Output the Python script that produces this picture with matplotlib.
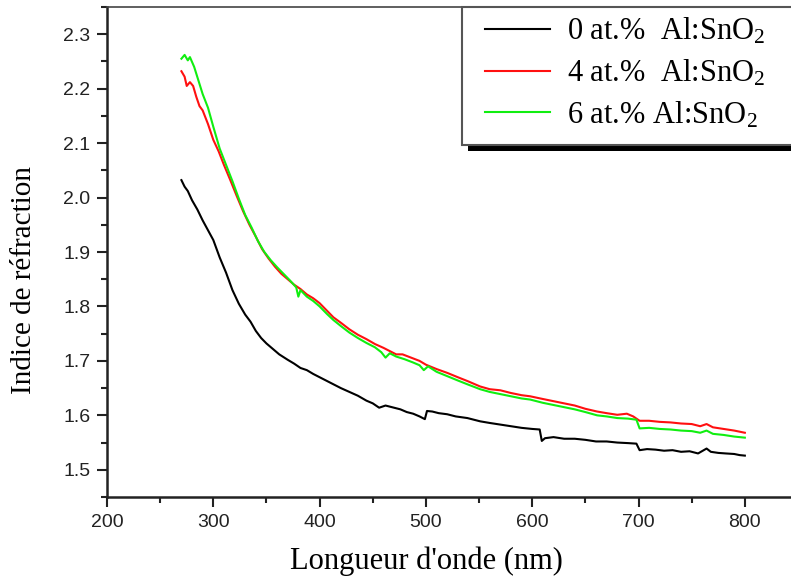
import matplotlib.pyplot as plt
from matplotlib.patches import Rectangle
from matplotlib.ticker import MultipleLocator

# 0 at.% Al:SnO2
lam0 = [270, 273, 276, 280, 285, 290, 295, 300, 306, 312, 318, 324, 330, 335, 340,
        345, 350, 356, 362, 370, 376, 382, 388, 394, 400, 406, 413, 420, 428, 436,
        444, 450, 456, 462, 466, 470, 476, 482, 488, 494, 499, 501, 506, 512, 520,
        528, 539, 551, 560, 570, 580, 590, 600, 607, 609, 612, 620, 630, 640, 650,
        660, 670, 680, 690, 698, 701, 708, 716, 724, 732, 740, 748, 756, 764, 768,
        775, 782, 790, 795, 800]
n0 = [2.032, 2.020, 2.012, 1.995, 1.978, 1.958, 1.940, 1.922, 1.890, 1.862, 1.830,
      1.805, 1.785, 1.772, 1.755, 1.742, 1.732, 1.722, 1.712, 1.702, 1.695, 1.687,
      1.683, 1.676, 1.670, 1.664, 1.657, 1.650, 1.643, 1.636, 1.627, 1.622, 1.614,
      1.618, 1.616, 1.614, 1.611, 1.606, 1.603, 1.598, 1.593, 1.608, 1.607, 1.604,
      1.602, 1.598, 1.595, 1.589, 1.586, 1.583, 1.580, 1.577, 1.575, 1.574, 1.553,
      1.558, 1.560, 1.557, 1.557, 1.555, 1.552, 1.552, 1.550, 1.549, 1.548, 1.536,
      1.538, 1.537, 1.535, 1.536, 1.533, 1.534, 1.530, 1.539, 1.533, 1.531, 1.530,
      1.529, 1.527, 1.526]

# 4 at.% Al:SnO2
lam4 = [270, 273, 275, 278, 281, 284, 287, 290, 295, 300, 305, 310, 316, 322, 328,
        334, 340, 346, 352, 358, 364, 370, 376, 382, 388, 394, 400, 407, 413, 420,
        428, 436, 444, 452, 460, 466, 472, 478, 486, 494, 500, 510, 520, 530, 539,
        551, 560, 570, 580, 590, 598, 610, 620, 630, 640, 650, 661, 670, 680, 689,
        695, 701, 710, 720, 730, 740, 750, 758, 764, 770, 780, 790, 800]
n4 = [2.232, 2.222, 2.205, 2.212, 2.205, 2.185, 2.168, 2.160, 2.135, 2.106, 2.085,
      2.060, 2.032, 2.003, 1.975, 1.950, 1.928, 1.905, 1.888, 1.873, 1.860, 1.850,
      1.840, 1.832, 1.822, 1.815, 1.806, 1.792, 1.780, 1.770, 1.758, 1.748, 1.740,
      1.731, 1.724, 1.718, 1.712, 1.712, 1.706, 1.700, 1.693, 1.685, 1.678, 1.670,
      1.663, 1.653, 1.648, 1.646, 1.641, 1.637, 1.635, 1.630, 1.626, 1.622, 1.618,
      1.612, 1.607, 1.604, 1.601, 1.603, 1.598, 1.590, 1.590, 1.588, 1.587, 1.585,
      1.584, 1.580, 1.584, 1.578, 1.575, 1.572, 1.568]

# 6 at.% Al:SnO2
lam6 = [270, 273, 276, 278, 282, 286, 290, 295, 300, 306, 312, 318, 324, 330, 336,
        342, 348, 354, 360, 366, 372, 378, 380, 382, 388, 394, 400, 407, 413, 420,
        428, 436, 444, 452, 458, 462, 466, 472, 480, 488, 494, 498, 502, 510, 520,
        530, 539, 551, 560, 570, 580, 590, 598, 610, 620, 630, 640, 650, 661, 670,
        680, 690, 698, 701, 710, 720, 730, 740, 750, 758, 764, 770, 780, 790, 800]
n6 = [2.255, 2.262, 2.252, 2.258, 2.240, 2.215, 2.190, 2.165, 2.130, 2.090, 2.060,
      2.030, 1.998, 1.968, 1.945, 1.920, 1.900, 1.885, 1.872, 1.860, 1.848, 1.835,
      1.818, 1.830, 1.818, 1.810, 1.800, 1.786, 1.775, 1.764, 1.752, 1.742, 1.733,
      1.725, 1.716, 1.706, 1.714, 1.708, 1.703, 1.697, 1.692, 1.683, 1.690, 1.680,
      1.672, 1.664, 1.657, 1.648, 1.643, 1.639, 1.635, 1.631, 1.629, 1.623, 1.619,
      1.615, 1.611, 1.606, 1.600, 1.598, 1.595, 1.594, 1.592, 1.576, 1.577, 1.575,
      1.574, 1.572, 1.571, 1.568, 1.572, 1.566, 1.564, 1.561, 1.559]

labels = [r'0 at.%  Al:SnO$_2$', r'4 at.%  Al:SnO$_2$', r'6 at.% Al:SnO$_2$']

plt.rcParams['mathtext.fontset'] = 'custom'
plt.rcParams['mathtext.rm'] = 'Liberation Serif'
plt.rcParams['mathtext.it'] = 'Liberation Serif:italic'

W, H = 791, 583
fig = plt.figure(figsize=(W / 100, H / 100), dpi=100)
ax = fig.add_axes([107 / W, 1 - 497 / H, (798 - 107) / W, (497 - 7) / H])

l0, = ax.plot(lam0, n0, color='black', lw=1.5)
l4, = ax.plot(lam4, n4, color='#ff1010', lw=1.5)
l6, = ax.plot(lam6, n6, color='#10ee10', lw=1.5)

ax.set_xlim(200, 850)
ax.set_ylim(1.45, 2.35)
ax.xaxis.set_major_locator(MultipleLocator(100))
ax.xaxis.set_minor_locator(MultipleLocator(50))
ax.yaxis.set_major_locator(MultipleLocator(0.1))
ax.yaxis.set_minor_locator(MultipleLocator(0.05))
ax.set_xticks(range(200, 801, 100))

for s in ['left', 'bottom']:
    ax.spines[s].set_linewidth(1.8)
    ax.spines[s].set_color('#222222')
ax.spines['top'].set_linewidth(1.2)
ax.spines['top'].set_color('#444444')
ax.spines['right'].set_visible(False)

ax.tick_params(which='both', direction='out', top=False, right=False,
               colors='#222222', width=1.5)
ax.tick_params(which='major', length=7, labelsize=14, pad=5)
ax.tick_params(which='minor', length=4)
for lab in ax.get_xticklabels() + ax.get_yticklabels():
    lab.set_family('Liberation Sans')

ax.set_xlabel("Longueur d'onde (nm)", family='Liberation Serif', fontsize=22)
ax.set_ylabel('Indice de réfraction', family='Liberation Serif', fontsize=21)
ax.xaxis.set_label_coords(0.4617, -0.102)
ax.yaxis.set_label_coords(-0.102, 0.443)

# legend box with a black drop shadow, right side runs off the picture
fig.patches.append(Rectangle((468 / W, 1 - 151 / H), 400 / W, 138 / H,
                             transform=fig.transFigure, facecolor='black',
                             edgecolor='none', zorder=3))
fig.patches.append(Rectangle((462 / W, 1 - 145 / H), 400 / W, 138 / H,
                             transform=fig.transFigure, facecolor='white',
                             edgecolor='#555555', lw=1.5, zorder=4))
leg = fig.legend([l0, l4, l6], labels, loc='upper left',
                 bbox_to_anchor=(485 / W, 1 - 16 / H), frameon=False,
                 borderaxespad=0, borderpad=0,
                 prop={'family': 'Liberation Serif', 'size': 22},
                 handlelength=2.12, handletextpad=0.55, labelspacing=0.37)
leg.set_zorder(5)

fig.savefig('out.png', dpi=100)
